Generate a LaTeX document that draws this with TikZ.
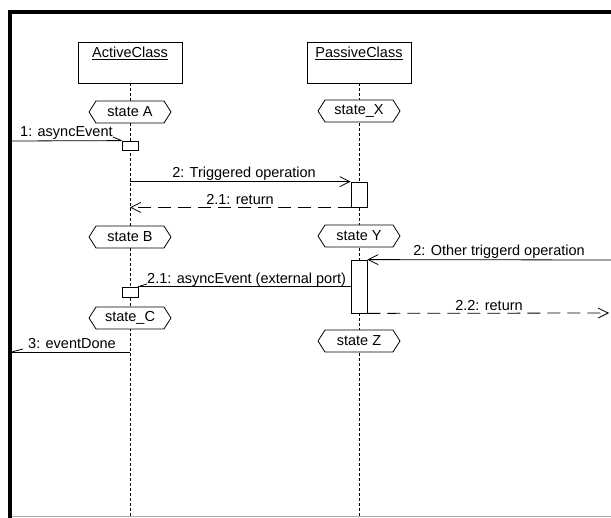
\documentclass[tikz,border=0pt]{standalone}
\usepackage{fontspec}
\setmainfont{Liberation Sans}
\usetikzlibrary{arrows.meta,positioning,shapes.symbols}

\begin{document}
\begin{tikzpicture}[x=1pt,y=-1pt,
    objbox/.style={draw, line width=0.8pt, minimum width=104pt, minimum height=41pt, inner sep=0pt},
    statebox/.style={draw, fill=white, line width=0.8pt, signal, signal to=west and east,
      signal pointer angle=115, minimum width=82pt, minimum height=22pt, inner sep=0pt,
      font=\fontsize{14.5}{16}\selectfont},
    actbox/.style={draw, fill=white, line width=0.8pt, minimum width=16pt, inner sep=0pt},
    lifeline/.style={line width=0.8pt, dash pattern=on 3pt off 2pt},
    msg/.style={line width=0.8pt},
    callmsg/.style={msg, -{Straight Barb[length=10pt,width=10pt]}},
    retmsg/.style={msg, dash pattern=on 13pt off 7pt, -{Straight Barb[length=10pt,width=10pt]}},
    lbl/.style={inner sep=0pt, font=\fontsize{14.5}{16}\selectfont}]
    \useasboundingbox (0,0) rectangle (611,518);

    % Frame
    \draw[line width=4pt] (9.5,518) -- (9.5,12) -- (611,12);
    \draw[gray!70, line width=1pt] (11.5,517) -- (611,517);

    % Objects
    \node[objbox] (active) at (130,62.5) {};
    \node[lbl, below=5pt of active.north] (activeName) {\underline{ActiveClass}};
    \node[objbox] (passive) at (359,62.5) {};
    \node[lbl, below=5pt of passive.north] (passiveName) {\underline{PassiveClass}};

    % Lifelines
    \coordinate (activeEnd) at (130,518);
    \coordinate (passiveEnd) at (359,518);
    \draw[lifeline] (active.south) -- (activeEnd);
    \draw[lifeline] (passive.south) -- (passiveEnd);

    % States
    \node[statebox] (stateA) at (130,112) {state A};
    \node[statebox] (stateX) at (359,111) {state\_X};
    \node[statebox] (stateB) at (130,237) {state B};
    \node[statebox] (stateY) at (359,236) {state Y};
    \node[statebox] (stateC) at (130,318) {state\_C};
    \node[statebox] (stateZ) at (359,341) {state Z};

    % Activations
    \node[actbox, minimum height=9pt] (act1) at (130,145.5) {};
    \node[actbox, minimum height=25pt] (act2) at (359,194.5) {};
    \node[actbox, minimum height=10pt] (act3) at (130,292) {};
    \node[actbox, minimum height=53pt] (act4) at (359,286.5) {};

    % 1: asyncEvent
    \coordinate (env1) at (11.5,141);
    \draw[msg] (env1) -- (act1.north west);
    \node[lbl, anchor=base west] (lab1) at (20,137) {1: asyncEvent};
    \draw[msg] (lab1.base east) -- (act1.north west);

    % 2: Triggered operation and its return
    \draw[callmsg] (active.south |- act2.north) -- (act2.north west);
    \node[lbl, anchor=base] (lab2) at (244,178) {2: Triggered operation};
    \draw[retmsg] (act2.south west) -- (active.south |- act2.south);
    \node[lbl, anchor=base] (lab21) at (240,205) {2.1: return};

    % 2: Other triggerd operation
    \coordinate (env2) at (611,260);
    \draw[callmsg] (env2) -- (act4.north east);
    \node[lbl, anchor=base] (lab2b) at (499,256) {2: Other triggerd operation};

    % 2.1: asyncEvent (external port)
    \draw[msg] (act4.west) -- (act3.north east);
    \node[lbl, anchor=base west] (lab21b) at (147,284) {2.1: asyncEvent (external port)};
    \draw[msg] (act3.north east) -- (lab21b.base west);

    % 2.2: return
    \coordinate (env3) at (609,313);
    \draw[retmsg] (act4.south east) -- (env3);
    \node[lbl, anchor=base] (lab22) at (489,311) {2.2: return};

    % 3: eventDone
    \coordinate (env4) at (11.5,352);
    \draw[msg] (active.south |- env4) -- (env4);
    \node[lbl, anchor=base west] (lab3) at (28,349) {3: eventDone};
    \draw[msg] (env4) -- ([xshift=-5pt]lab3.base west);
\end{tikzpicture}
\end{document}
